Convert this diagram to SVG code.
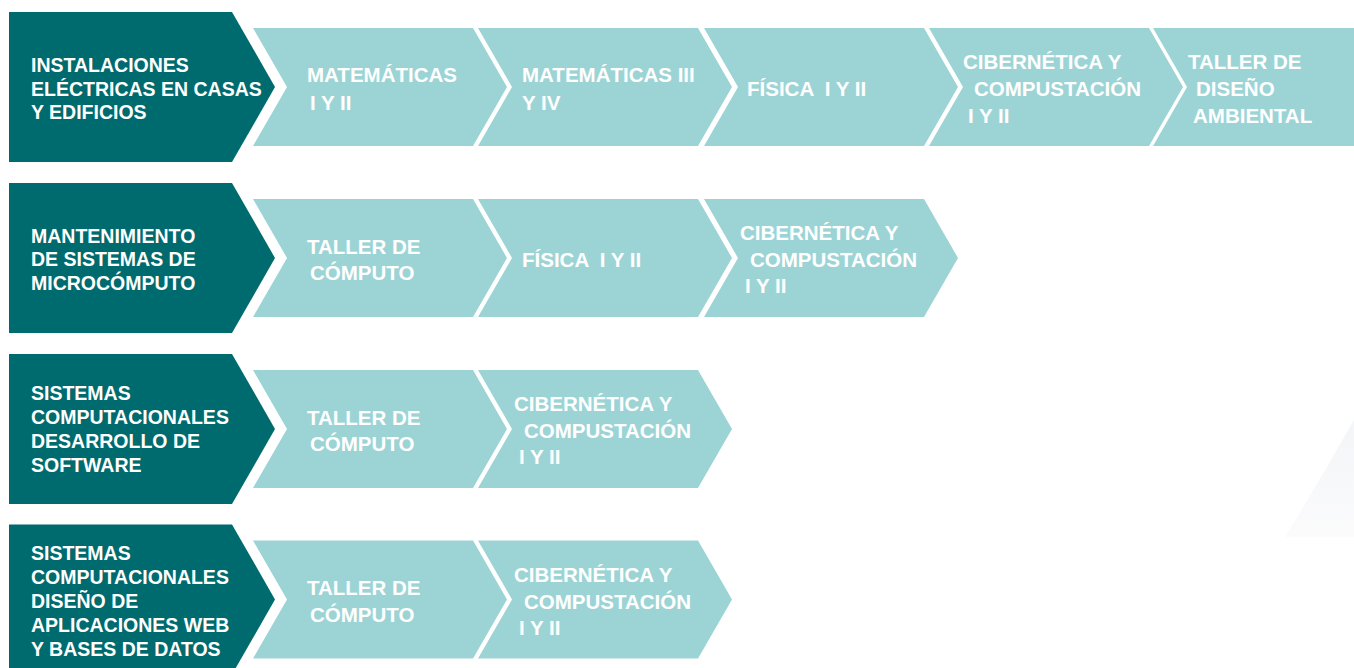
<svg xmlns="http://www.w3.org/2000/svg" xmlns:xlink="http://www.w3.org/1999/xlink" width="1354" height="668" viewBox="0 0 1354 668">
<style>
.dark{fill:#006b6e}
.light{fill:#9cd4d5}
text{font-family:"Liberation Sans",Arial,sans-serif;font-weight:bold;fill:#ffffff;white-space:pre}
.dt{font-size:19.5px}
.lt{font-size:20.5px}
</style>
<defs>
<path id="chev" d="M0,0 H220 L254,59 L220,118 H0 L34,59 Z"/>
<path id="head" d="M0,0 H223 L266,75 L223,150 H0 Z"/>
<linearGradient id="fade" x1="0" y1="0" x2="0" y2="1">
<stop offset="0" stop-color="#f3f5f8"/>
<stop offset="1" stop-color="#fbfbfc"/>
</linearGradient>
</defs>
<rect width="1354" height="668" fill="#ffffff"/>
<path d="M1354,420 Q1320,480 1285,537 L1354,537 Z" fill="url(#fade)"/>
<g id="connectors"/>

<!-- Row 1 -->
<g id="r1-head"><use xlink:href="#head" x="9" y="12" class="dark"/>
<text class="dt"><tspan x="31" y="72">INSTALACIONES</tspan><tspan x="31" y="95.5">ELÉCTRICAS EN CASAS</tspan><tspan x="31" y="119">Y EDIFICIOS</tspan></text></g>
<g id="r1-n1"><use xlink:href="#chev" x="253" y="28" class="light"/>
<text class="lt"><tspan x="307" y="82">MATEMÁTICAS</tspan><tspan x="310" y="109.5">I Y II</tspan></text></g>
<g id="r1-n2"><use xlink:href="#chev" x="478" y="28" class="light"/>
<text class="lt"><tspan x="522" y="82">MATEMÁTICAS III</tspan><tspan x="522" y="109.5">Y IV</tspan></text></g>
<g id="r1-n3"><use xlink:href="#chev" x="704" y="28" class="light"/>
<text class="lt" x="747" y="96">FÍSICA  I Y II</text></g>
<g id="r1-n4"><use xlink:href="#chev" x="929" y="28" class="light"/>
<text class="lt"><tspan x="963" y="69">CIBERNÉTICA Y</tspan><tspan x="974" y="96">COMPUSTACIÓN</tspan><tspan x="968" y="123">I Y II</tspan></text></g>
<g id="r1-n5"><use xlink:href="#chev" x="1153" y="28" class="light"/>
<text class="lt"><tspan x="1188" y="69">TALLER DE</tspan><tspan x="1196" y="96">DISEÑO</tspan><tspan x="1193" y="123">AMBIENTAL</tspan></text></g>

<!-- Row 2 -->
<g id="r2-head"><use xlink:href="#head" x="9" y="183" class="dark"/>
<text class="dt"><tspan x="31" y="242.5">MANTENIMIENTO</tspan><tspan x="31" y="266">DE SISTEMAS DE</tspan><tspan x="31" y="290">MICROCÓMPUTO</tspan></text></g>
<g id="r2-n1"><use xlink:href="#chev" x="253" y="199" class="light"/>
<text class="lt"><tspan x="307" y="254">TALLER DE</tspan><tspan x="310" y="280">CÓMPUTO</tspan></text></g>
<g id="r2-n2"><use xlink:href="#chev" x="478" y="199" class="light"/>
<text class="lt" x="522" y="267">FÍSICA  I Y II</text></g>
<g id="r2-n3"><use xlink:href="#chev" x="704" y="199" class="light"/>
<text class="lt"><tspan x="740" y="240">CIBERNÉTICA Y</tspan><tspan x="750" y="266.5">COMPUSTACIÓN</tspan><tspan x="745" y="293">I Y II</tspan></text></g>

<!-- Row 3 -->
<g id="r3-head"><use xlink:href="#head" x="9" y="354" class="dark"/>
<text class="dt"><tspan x="31" y="400">SISTEMAS</tspan><tspan x="31" y="424">COMPUTACIONALES</tspan><tspan x="31" y="448">DESARROLLO DE</tspan><tspan x="31" y="472">SOFTWARE</tspan></text></g>
<g id="r3-n1"><use xlink:href="#chev" x="253" y="370" class="light"/>
<text class="lt"><tspan x="307" y="424.5">TALLER DE</tspan><tspan x="310" y="451">CÓMPUTO</tspan></text></g>
<g id="r3-n2"><use xlink:href="#chev" x="478" y="370" class="light"/>
<text class="lt"><tspan x="514" y="411">CIBERNÉTICA Y</tspan><tspan x="524" y="437.5">COMPUSTACIÓN</tspan><tspan x="519" y="464">I Y II</tspan></text></g>

<!-- Row 4 -->
<g id="r4-head"><use xlink:href="#head" x="9" y="524.5" class="dark"/>
<text class="dt"><tspan x="31" y="560">SISTEMAS</tspan><tspan x="31" y="584">COMPUTACIONALES</tspan><tspan x="31" y="608">DISEÑO DE</tspan><tspan x="31" y="632">APLICACIONES WEB</tspan><tspan x="31" y="656">Y BASES DE DATOS</tspan></text></g>
<g id="r4-n1"><use xlink:href="#chev" x="253" y="540.5" class="light"/>
<text class="lt"><tspan x="307" y="594.5">TALLER DE</tspan><tspan x="310" y="621.5">CÓMPUTO</tspan></text></g>
<g id="r4-n2"><use xlink:href="#chev" x="478" y="540.5" class="light"/>
<text class="lt"><tspan x="514" y="582">CIBERNÉTICA Y</tspan><tspan x="524" y="608.5">COMPUSTACIÓN</tspan><tspan x="519" y="635">I Y II</tspan></text></g>
</svg>
